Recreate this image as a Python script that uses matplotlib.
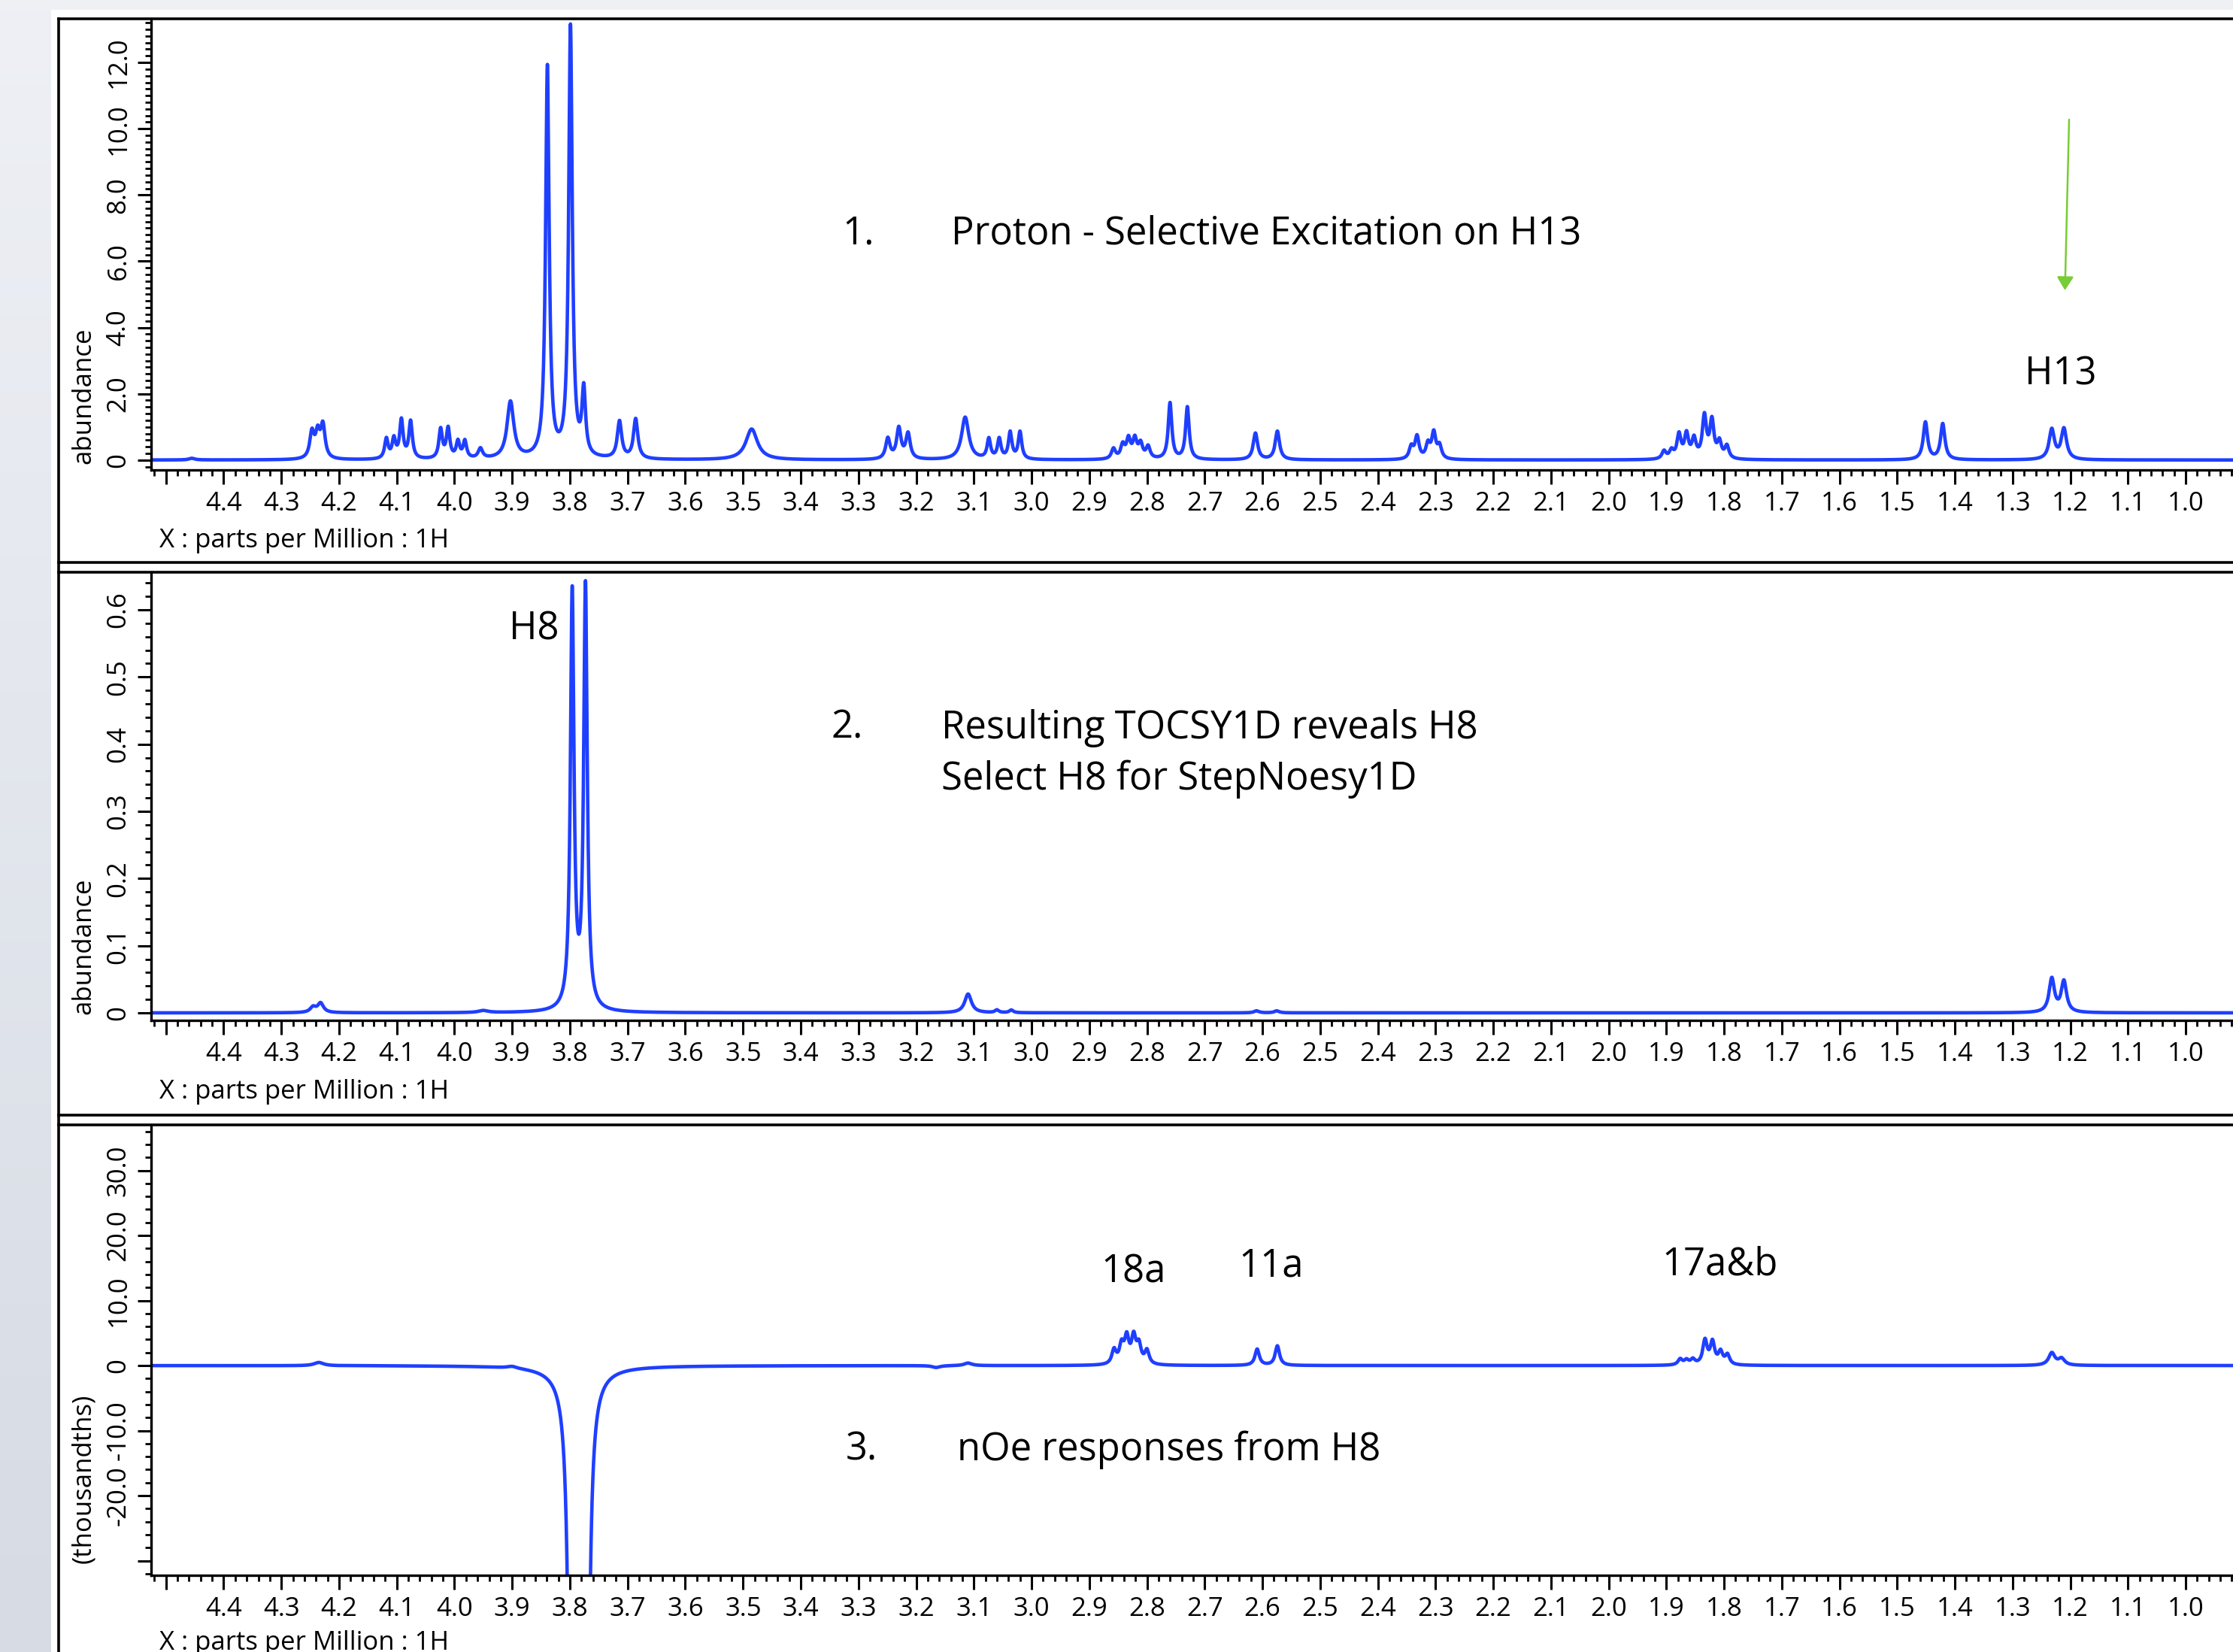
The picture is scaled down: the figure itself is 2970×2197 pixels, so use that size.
import numpy as np
import matplotlib
matplotlib.use("Agg")
import matplotlib.pyplot as plt
from matplotlib.lines import Line2D
from matplotlib.patches import Rectangle
from matplotlib.ticker import MultipleLocator, FuncFormatter

plt.rcParams['font.family'] = ['Open Sans', 'DejaVu Sans']

W, H = 2970, 2197

# peak tables: centre (ppm), height, half width (ppm)
p1_ppm = [4.455, 4.247, 4.237, 4.228, 4.118, 4.105, 4.092, 4.076, 4.024, 4.011, 3.994, 3.982,
          3.955, 3.903, 3.839, 3.799, 3.776, 3.714, 3.686, 3.485, 3.249, 3.230, 3.214, 3.115,
          3.074, 3.056, 3.037, 3.020, 2.858, 2.842, 2.832, 2.821, 2.811, 2.798, 2.760, 2.730,
          2.612, 2.574, 2.342, 2.332, 2.313, 2.303, 2.293, 1.904, 1.891, 1.878, 1.865, 1.852,
          1.834, 1.821, 1.808, 1.795, 1.451, 1.421, 1.232, 1.211]
p1_height = [0.05, 0.78, 0.72, 0.98, 0.60, 0.58, 1.15, 1.12, 0.88, 0.90, 0.50, 0.52,
             0.30, 1.72, 11.8, 13.0, 1.95, 1.12, 1.20, 0.93, 0.62, 0.92, 0.76, 1.28,
             0.60, 0.60, 0.80, 0.82, 0.31, 0.40, 0.57, 0.57, 0.43, 0.36, 1.70, 1.58,
             0.80, 0.86, 0.36, 0.67, 0.43, 0.77, 0.38, 0.24, 0.24, 0.72, 0.72, 0.57,
             1.26, 1.12, 0.48, 0.38, 1.13, 1.08, 0.90, 0.92]
p1_width = [0.006, 0.0045, 0.0045, 0.0045, 0.0036, 0.0036, 0.0036, 0.0036, 0.0036, 0.0036,
            0.0036, 0.0036, 0.0045, 0.007, 0.0037, 0.0037, 0.0037, 0.0045, 0.0045, 0.012,
            0.0045, 0.0045, 0.0045, 0.0075, 0.0036, 0.0036, 0.0036, 0.0036, 0.0042, 0.0042,
            0.0042, 0.0042, 0.0042, 0.0042, 0.0037, 0.0037, 0.0045, 0.0045, 0.0042, 0.0042,
            0.0042, 0.0042, 0.0042, 0.0042, 0.0042, 0.0042, 0.0042, 0.0042, 0.0042, 0.0042,
            0.0042, 0.0042, 0.0045, 0.0045, 0.0055, 0.0055]

p2_ppm = [4.245, 4.232, 3.950, 3.796, 3.773, 3.110, 3.060, 3.035, 2.610, 2.575, 1.232, 1.211]
p2_height = [0.008, 0.014, 0.003, 0.62, 0.628, 0.028, 0.004, 0.004, 0.003, 0.003, 0.050, 0.046]
p2_width = [0.006, 0.006, 0.010, 0.0037, 0.0037, 0.007, 0.004, 0.004, 0.005, 0.005,
            0.0055, 0.0055]

p3_ppm = [4.235, 3.900, 3.796, 3.773, 3.165, 3.110, 2.857, 2.844, 2.835, 2.823, 2.814, 2.800,
          2.609, 2.574, 1.876, 1.865, 1.854, 1.833, 1.820, 1.806, 1.794, 1.232, 1.215]
p3_height = [0.5, 0.3, -150, -150, -0.3, 0.4, 2.2, 2.8, 3.9, 4.0, 2.8, 2.1,
             2.5, 3.0, 0.9, 0.7, 0.8, 3.7, 3.4, 1.9, 1.5, 1.9, 1.0]
p3_width = [0.010, 0.010, 0.0043, 0.0043, 0.008, 0.008, 0.0045, 0.0045, 0.0045, 0.0045,
            0.0045, 0.0045, 0.0045, 0.0045, 0.0045, 0.0045, 0.0045, 0.0045, 0.0045, 0.0045,
            0.0045, 0.0065, 0.0065]

ppm = np.linspace(0.85, 4.6, 15000)


def spectrum(centres, heights, widths):
    y = np.zeros_like(ppm)
    for c, h, w in zip(centres, heights, widths):
        y += h / (1 + ((ppm - c) / w) ** 2)
    return y


def fx(px):
    return px / W


def fy(py):
    return 1 - py / H


fig = plt.figure(figsize=(W / 100, H / 100), dpi=100)
fig.patch.set_facecolor('white')

# grey window chrome on the left and top
bg = fig.add_axes([0, 0, fx(68), 1])
grad = np.linspace(0, 1, 256).reshape(-1, 1)
bg.imshow(grad, aspect='auto', cmap=matplotlib.colors.LinearSegmentedColormap.from_list(
    'bg', ['#eef0f5', '#d6dbe4']), extent=[0, 1, 0, 1], origin='upper')
bg.axis('off')
fig.add_artist(Rectangle((0, fy(13)), 1, 13 / H, transform=fig.transFigure,
                         facecolor='#eef0f4', edgecolor='none'))

blue = '#1f3fff'
tick_font = 25
AX_LEFT = 201

panels = [
    dict(top=24.5, axis=625, ylim=(-0.3, 13.33), major=2.0, minor=0.2,
         fmt=lambda v, p: '0' if abs(v) < 1e-9 else '%.1f' % v,
         data=(p1_ppm, p1_height, p1_width)),
    dict(top=761, axis=1357, ylim=(-0.0112, 0.656), major=0.1, minor=0.02,
         fmt=lambda v, p: '0' if abs(v) < 1e-9 else '%.1f' % v,
         data=(p2_ppm, p2_height, p2_width)),
    dict(top=1496, axis=2095, ylim=(-32.25, 37.0), major=10.0, minor=2.0,
         fmt=lambda v, p: '0' if abs(v) < 1e-9 else ('%.1f' % v if v > -25 else ''),
         data=(p3_ppm, p3_height, p3_width)),
]

axes = []
for pn in panels:
    ax = fig.add_axes([fx(AX_LEFT), fy(pn['axis']), 1 - fx(AX_LEFT), (pn['axis'] - pn['top']) / H])
    ax.set_facecolor('none')
    y = spectrum(*pn['data'])
    ax.plot(ppm, y, color=blue, lw=3.3, solid_joinstyle='round')
    ax.set_xlim(4.5257, 0.918)
    ax.set_ylim(*pn['ylim'])
    for s in ['top', 'right']:
        ax.spines[s].set_visible(False)
    for s in ['left', 'bottom']:
        ax.spines[s].set_linewidth(2.4)
    ax.xaxis.set_major_locator(MultipleLocator(0.1))
    ax.xaxis.set_minor_locator(MultipleLocator(0.02))
    ax.xaxis.set_major_formatter(FuncFormatter(lambda v, p: '' if v > 4.45 else '%.1f' % v))
    ax.yaxis.set_major_locator(MultipleLocator(pn['major']))
    ax.yaxis.set_minor_locator(MultipleLocator(pn['minor']))
    ax.yaxis.set_major_formatter(FuncFormatter(pn['fmt']))
    ax.tick_params(axis='x', which='major', direction='out', length=14, width=2.2,
                   labelsize=tick_font, pad=6)
    ax.tick_params(axis='x', which='minor', direction='out', length=6, width=2.0)
    ax.tick_params(axis='y', which='major', direction='out', length=13, width=2.2,
                   labelsize=tick_font, pad=6, labelrotation=90)
    ax.tick_params(axis='y', which='minor', direction='out', length=6, width=2.0)
    for lab in ax.get_yticklabels():
        lab.set_va('center')
    axes.append(ax)

# panel frames
frame_kw = dict(color='black', lw=2.6, transform=fig.transFigure)
for top, bottom in [(24.5, 748), (761, 1483), (1496, None)]:
    fig.add_artist(Line2D([fx(78), 1], [fy(top), fy(top)], **frame_kw))
    if bottom is not None:
        fig.add_artist(Line2D([fx(78), 1], [fy(bottom), fy(bottom)], **frame_kw))
fig.add_artist(Line2D([fx(78), fx(78)], [fy(24.5), 0], **frame_kw))

# axis titles
for ypx in [719, 1452, 2185]:
    fig.text(fx(212), fy(ypx), 'X : parts per Million : 1H', fontsize=tick_font,
             ha='left', va='center')
for ypx, lab in [(617, 'abundance'), (1349, 'abundance'), (2079, '(thousandths)')]:
    fig.text(fx(111), fy(ypx), lab, fontsize=tick_font, rotation=90, ha='center', va='bottom')

# annotations
big = 36.5
dy = 6
fig.text(fx(1142), fy(305 + dy), '1.', fontsize=big, ha='center', va='center')
fig.text(fx(1265), fy(305 + dy), 'Proton - Selective Excitation on H13', fontsize=big,
         ha='left', va='center')
fig.text(fx(2741), fy(492 + dy), 'H13', fontsize=big, ha='center', va='center')
fig.text(fx(710), fy(831 + dy), 'H8', fontsize=big, ha='center', va='center')
fig.text(fx(1127), fy(962 + dy), '2.', fontsize=big, ha='center', va='center')
fig.text(fx(1252), fy(962 + dy), 'Resulting TOCSY1D reveals H8', fontsize=big,
         ha='left', va='center')
fig.text(fx(1252), fy(1030 + dy), 'Select H8 for StepNoesy1D', fontsize=big,
         ha='left', va='center')
fig.text(fx(1508), fy(1686 + dy), '18a', fontsize=big, ha='center', va='center')
fig.text(fx(1691), fy(1678 + dy), '11a', fontsize=big, ha='center', va='center')
fig.text(fx(2288), fy(1676 + dy), '17a&b', fontsize=big, ha='center', va='center')
fig.text(fx(1146), fy(1922 + dy), '3.', fontsize=big, ha='center', va='center')
fig.text(fx(1273), fy(1922 + dy), 'nOe responses from H8', fontsize=big, ha='left', va='center')

# green selection arrow
axes[0].annotate('', xy=(2746.5, H - 386), xytext=(2752, H - 159), xycoords='figure pixels',
                 textcoords='figure pixels',
                 arrowprops=dict(arrowstyle='-|>,head_length=0.45,head_width=0.28',
                                 color='#78cc34', lw=1.8, mutation_scale=24,
                                 shrinkA=0, shrinkB=0))

fig.savefig('out.png', dpi=100)
